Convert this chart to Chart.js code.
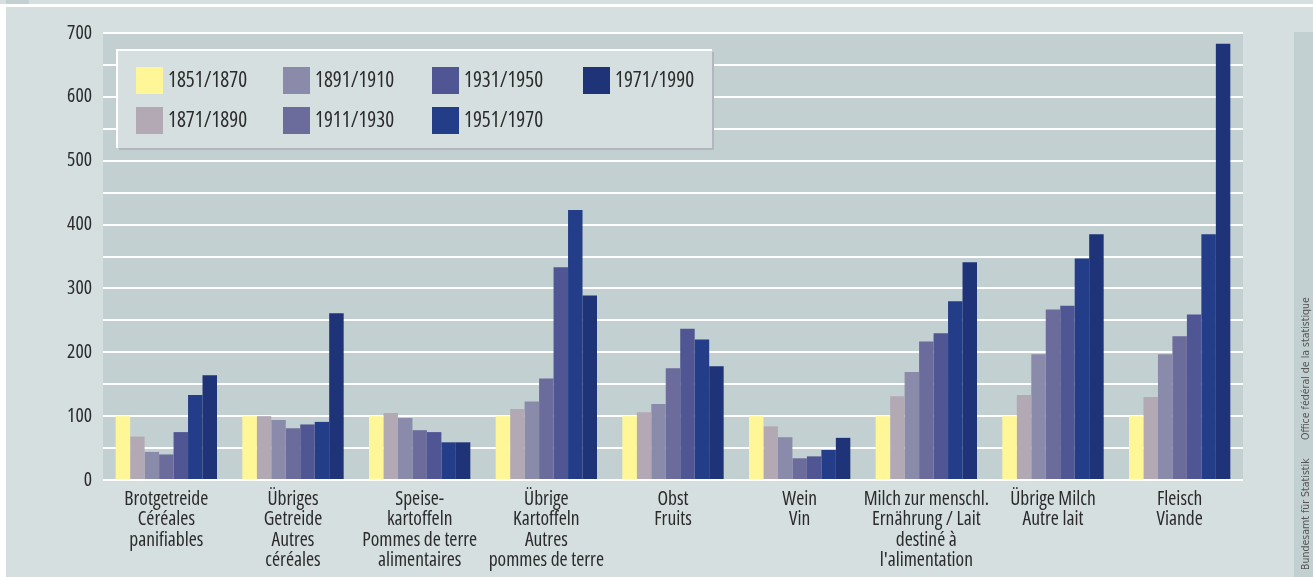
<!DOCTYPE html>
<html>
<head>
<meta charset="utf-8">
<script src="https://cdn.jsdelivr.net/npm/chart.js@4"></script>
<style>
  html, body { margin: 0; padding: 0; background: #ffffff; }
  #wrap { position: absolute; left: 0; top: 0; width: 1313px; height: 577px; }
</style>
</head>
<body>
<div id="wrap"><canvas id="canvas" width="1313" height="577"></canvas></div>
<script>
// categories (German / French)
const categories = [
  ['Brotgetreide', 'Céréales', 'panifiables'],
  ['Übriges', 'Getreide', 'Autres', 'céréales'],
  ['Speise-', 'kartoffeln', 'Pommes de terre', 'alimentaires'],
  ['Übrige', 'Kartoffeln', 'Autres', 'pommes de terre'],
  ['Obst', 'Fruits'],
  ['Wein', 'Vin'],
  ['Milch zur menschl.', 'Ernährung / Lait', 'destiné à', "l'alimentation"],
  ['Übrige Milch', 'Autre lait'],
  ['Fleisch', 'Viande']
];

const periods = ['1851/1870', '1871/1890', '1891/1910', '1911/1930', '1931/1950', '1951/1970', '1971/1990'];
const colors = ['#fff797', '#b3a9b5', '#8a8aab', '#6b6b9c', '#505593', '#233d88', '#1f3378'];

// index values, 1851/1870 = 100
const v1851 = [100, 100, 100, 100, 100, 100, 100, 100, 100];
const v1871 = [68, 100, 105, 111, 106, 84, 131, 133, 130];
const v1891 = [44, 94, 97, 123, 119, 67, 169, 197, 197];
const v1911 = [40, 81, 78, 159, 175, 34, 217, 267, 225];
const v1931 = [75, 87, 75, 333, 237, 37, 230, 273, 259];
const v1951 = [133, 91, 59, 423, 220, 47, 280, 347, 385];
const v1971 = [164, 261, 59, 289, 178, 66, 341, 385, 683];

const yTicks = [0, 100, 200, 300, 400, 500, 600, 700];

const seriesValues = [v1851, v1871, v1891, v1911, v1931, v1951, v1971];
const FAMILY = "'Open Sans', sans-serif";

const bgPlugin = {
  id: 'bg',
  beforeDraw(chart) {
    const ctx = chart.ctx;
    const a = chart.chartArea;
    ctx.save();
    ctx.fillStyle = '#ffffff';
    ctx.fillRect(0, 0, chart.width, chart.height);
    ctx.fillStyle = '#d6dfe0';
    ctx.fillRect(0, 0, chart.width, 4);
    ctx.fillRect(6, 7, chart.width - 6, chart.height - 7);
    ctx.fillStyle = '#c3d0d1';
    ctx.fillRect(6, 0, 23, 4);
    // plot area
    ctx.fillRect(a.left, a.top, a.right - a.left, a.bottom - a.top);
    // side strip
    ctx.fillRect(1294, 32, chart.width - 1294, chart.height - 32);
    ctx.restore();
  },
  afterDraw(chart) {
    const ctx = chart.ctx;
    ctx.save();
    // legend box
    ctx.fillStyle = '#b4b6bf';
    ctx.fillRect(119, 52, 595, 98);
    ctx.fillStyle = '#d6dfe0';
    ctx.fillRect(117, 50, 595, 98);
    ctx.strokeStyle = '#ffffff';
    ctx.lineWidth = 2;
    ctx.beginPath();
    ctx.moveTo(117, 148);
    ctx.lineTo(117, 50);
    ctx.lineTo(712, 50);
    ctx.stroke();

    const cols = [136, 283, 432, 583];
    const rows = [67, 107];
    ctx.font = 'condensed 21px ' + FAMILY;
    ctx.textBaseline = 'middle';
    ctx.textAlign = 'left';
    chart.data.datasets.forEach((ds, i) => {
      const x = cols[Math.floor(i / 2)];
      const y = rows[i % 2];
      ctx.fillStyle = ds.backgroundColor;
      ctx.fillRect(x, y, 27, 27);
      ctx.fillStyle = '#2b2b2b';
      ctx.fillText(ds.label, x + 32, y + 14);
    });

    // source text, rotated
    ctx.translate(1306, 577);
    ctx.rotate(-Math.PI / 2);
    ctx.font = "condensed 10.5px 'DejaVu Sans'";
    ctx.fillStyle = '#555555';
    ctx.textAlign = 'left';
    ctx.fillText('Bundesamt für Statistik', 7, 0);
    ctx.fillText('Office fédéral de la statistique', 137, 0);
    ctx.restore();
  }
};

const ctx = document.getElementById('canvas').getContext('2d');
const chart = new Chart(ctx, {
  type: 'bar',
  data: {
    labels: categories,
    datasets: periods.map((p, i) => ({
      label: p,
      data: seriesValues[i],
      backgroundColor: colors[i],
      borderWidth: 0,
      categoryPercentage: 0.8,
      barPercentage: 1.0
    }))
  },
  options: {
    responsive: false,
    animation: false,
    events: [],
    layout: { padding: { top: 33, right: 70, left: 0, bottom: 0 } },
    plugins: {
      legend: { display: false },
      tooltip: { enabled: false }
    },
    scales: {
      x: {
        grid: { display: false },
        border: { display: false },
        ticks: {
          color: '#2b2b2b',
          font: { family: FAMILY, weight: 'condensed', size: 19.5, lineHeight: 1.05 },
          padding: 1,
          autoSkip: false,
          maxRotation: 0
        },
        afterFit(scale) { scale.height = 97; }
      },
      y: {
        min: 0,
        max: 700,
        border: { display: false },
        grid: { color: '#ffffff', lineWidth: 2, drawTicks: false },
        ticks: {
          stepSize: 50,
          color: '#2b2b2b',
          padding: 11,
          font: { family: FAMILY, weight: 'condensed', size: 19.5 },
          callback: (v) => (yTicks.includes(v) ? v : '')
        },
        afterFit(scale) { scale.width = 103; }
      }
    }
  },
  plugins: [bgPlugin]
});
</script>
</body>
</html>
